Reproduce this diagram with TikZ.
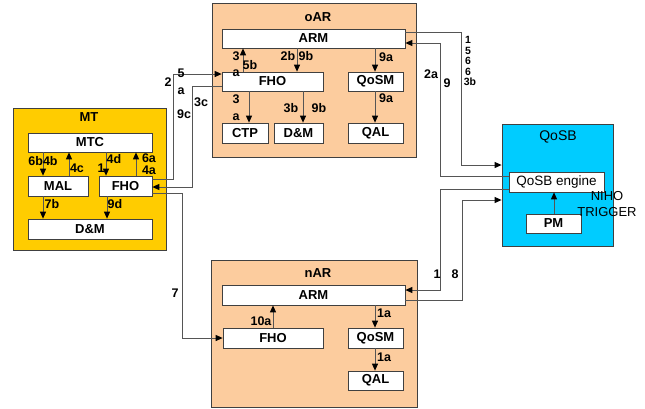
\documentclass[tikz,border=0pt]{standalone}
\usepackage{fontspec}
\setmainfont{Liberation Sans}
\usetikzlibrary{arrows.meta}
\definecolor{mtyellow}{RGB}{255,204,0}
\definecolor{arpeach}{RGB}{252,204,158}
\definecolor{qoscyan}{RGB}{0,204,255}
\definecolor{linegray}{RGB}{85,85,85}
\begin{document}
\begin{tikzpicture}[x=1pt,y=-1pt,
    area/.style={rectangle,draw=black!75,line width=0.8pt,inner sep=0},
    box/.style={rectangle,draw=black!75,fill=white,inner sep=0,line width=0.7pt,
      font=\bfseries\fontsize{13}{15}\selectfont},
    title/.style={inner sep=0,font=\bfseries\fontsize{13}{15}\selectfont},
    lbl/.style={inner sep=0,font=\bfseries\fontsize{12.5}{14}\selectfont},
    tiny/.style={inner sep=0,font=\bfseries\fontsize{10.5}{12}\selectfont},
    ln/.style={draw=linegray,line width=0.9pt},
    arr/.style={ln,-{Triangle[length=7pt,width=6pt,color=black]}}]
  \useasboundingbox (0,0) rectangle (645,408);

  % MT
  \node[area,fill=mtyellow,minimum width=153pt,minimum height=142pt] (mt) at (89.5,179) {};
  \node[title] (mttitle) at (89,117) {MT};
  \node[box,minimum width=124pt,minimum height=19pt] (mtc) at (90,142.5) {MTC};
  \node[box,minimum width=60pt,minimum height=20pt] (mal) at (58,186) {MAL};
  \node[box,minimum width=53pt,minimum height=20pt] (mtfho) at (125.5,186) {FHO};
  \node[box,minimum width=124pt,minimum height=20pt] (mtdm) at (90,229) {D\&M};

  % oAR
  \node[area,fill=arpeach,minimum width=204pt,minimum height=154pt] (oar) at (314,80) {};
  \node[title] (oartitle) at (318,17) {oAR};
  \node[box,minimum width=183pt,minimum height=19pt] (oarm) at (313.5,38.5) {ARM};
  \node[box,minimum width=101pt,minimum height=19pt] (ofho) at (272.5,81.5) {FHO};
  \node[box,minimum width=55pt,minimum height=19pt] (oqosm) at (375.5,81.5) {QoSM};
  \node[box,minimum width=46pt,minimum height=20pt] (octp) at (245,133) {CTP};
  \node[box,minimum width=49pt,minimum height=20pt] (odm) at (298.5,133) {D\&M};
  \node[box,minimum width=55pt,minimum height=20pt] (oqal) at (375.5,133) {QAL};

  % QoSB
  \node[area,fill=qoscyan,minimum width=111pt,minimum height=122pt] (qosb) at (557.5,185) {};
  \node[title,font=\fontsize{14}{16}\selectfont] (qosbtitle) at (558,137) {QoSB};
  \node[box,font=\fontsize{13.5}{15}\selectfont,minimum width=95pt,minimum height=20pt] (engine) at (556.5,182) {QoSB engine};
  \node[box,minimum width=55pt,minimum height=19pt] (pm) at (553.5,223.5) {PM};
  \node[inner sep=0,align=center,font=\fontsize{13}{16}\selectfont] (niho) at (607,204) {NIHO\\TRIGGER};

  % nAR
  \node[area,fill=arpeach,minimum width=206pt,minimum height=147pt] (nar) at (314,333.5) {};
  \node[title] (nartitle) at (318,273) {nAR};
  \node[box,minimum width=183pt,minimum height=20pt] (narm) at (313.5,295) {ARM};
  \node[box,minimum width=100pt,minimum height=20pt] (nfho) at (273,338) {FHO};
  \node[box,minimum width=55pt,minimum height=20pt] (nqosm) at (375.5,338) {QoSM};
  \node[box,minimum width=55pt,minimum height=19pt] (nqal) at (375.5,380.5) {QAL};

  % inside MT
  \draw[arr] (mtc.south -| 43,0) -- (mal.north -| 43,0);
  \draw[arr] (mal.north -| 69,0) -- (mtc.south -| 69,0);
  \draw[arr] (mtc.south -| 106,0) -- (mtfho.north -| 106,0);
  \draw[arr] (mtfho.north -| 136,0) -- (mtc.south -| 136,0);
  \draw[arr] (mal.south -| 43,0) -- (mtdm.north -| 43,0);
  \draw[arr] (mtfho.south -| 107,0) -- (mtdm.north -| 107,0);
  \node[lbl] at (43,161) {6b4b};
  \node[lbl] at (77,168) {4c};
  \node[lbl] at (101,168) {1};
  \node[lbl] at (114,159) {4d};
  \node[lbl] at (149,158) {6a};
  \node[lbl] at (149,170) {4a};
  \node[lbl] at (52,204) {7b};
  \node[lbl] at (115,204) {9d};

  % inside oAR
  \draw[arr] (ofho.north -| 243,0) -- (oarm.south -| 243,0);
  \draw[arr] (oarm.south -| 297,0) -- (ofho.north -| 297,0);
  \draw[arr] (oarm.south -| 375,0) -- (oqosm.north -| 375,0);
  \draw[arr] (ofho.south -| 249,0) -- (octp.north -| 249,0);
  \draw[arr] (ofho.south -| 303,0) -- (odm.north -| 303,0);
  \draw[arr] (oqosm.south -| 375,0) -- (oqal.north -| 375,0);
  \node[lbl] at (236,56) {3};
  \node[lbl] at (250,65) {5b};
  \node[lbl] at (236,73) {a};
  \node[lbl] at (288,56) {2b};
  \node[lbl] at (306,56) {9b};
  \node[lbl] at (386,57) {9a};
  \node[lbl] at (236,99) {3};
  \node[lbl] at (236,117) {a};
  \node[lbl] at (291,108) {3b};
  \node[lbl] at (319,108) {9b};
  \node[lbl] at (386,98) {9a};

  % inside QoSB
  \draw[arr] (pm.north -| 554,0) -- (engine.south -| 554,0);

  % inside nAR
  \draw[arr] (nfho.north -| 273,0) -- (narm.south -| 273,0);
  \draw[arr] (narm.south -| 375,0) -- (nqosm.north -| 375,0);
  \draw[arr] (nqosm.south -| 375,0) -- (nqal.north -| 375,0);
  \node[lbl] at (261,321) {10a};
  \node[lbl] at (384,313) {1a};
  \node[lbl] at (384,357) {1a};

  % between the areas
  \draw[arr] (mtfho.east |- 0,179) -| (173,74) -- (ofho.west |- 0,74);
  \draw[arr] (ofho.west |- 0,86) -| (192,187) -- (mtfho.east |- 0,187);
  \draw[arr] (mtfho.east |- 0,193) -| (182,338) -- (nfho.west);
  \draw[arr] (oarm.east |- 0,32) -| (461,165) -- (qosb.west |- 0,165);
  \draw[arr] (engine.west |- 0,176) -| (440,43) -- (oarm.east |- 0,43);
  \draw[arr] (engine.west |- 0,189) -| (440,290) -- (narm.east |- 0,290);
  \draw[arr] (narm.east |- 0,300) -| (462,200) -- (qosb.west |- 0,200);
  \node[lbl] at (168,82) {2};
  \node[lbl] at (181,73) {5};
  \node[lbl] at (181,91) {a};
  \node[lbl] at (184,114) {9c};
  \node[lbl] at (201,102) {3c};
  \node[lbl] at (175,293) {7};
  \node[lbl] at (431,74) {2a};
  \node[lbl] at (447,83) {9};
  \node[tiny] at (468,40) {1};
  \node[tiny] at (468,50.5) {5};
  \node[tiny] at (468,61) {6};
  \node[tiny] at (468,71.5) {6};
  \node[tiny] at (470,82) {3b};
  \node[lbl] at (437,274) {1};
  \node[lbl] at (455,274) {8};
\end{tikzpicture}
\end{document}
